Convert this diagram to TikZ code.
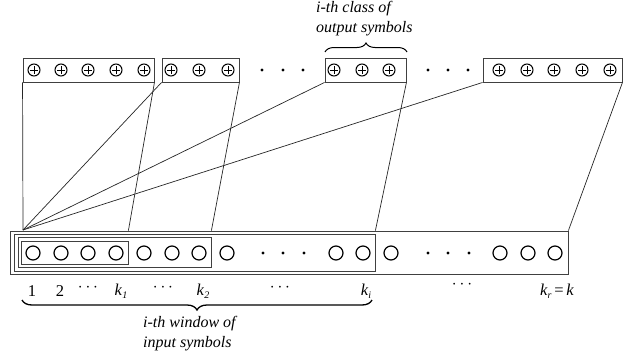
\documentclass[tikz,border=0pt]{standalone}
\usepackage{fontspec}
\setmainfont{Liberation Serif}
\usetikzlibrary{decorations.pathreplacing,calc}
\newcommand{\kk}[1]{\textit{k}\raisebox{-0.45ex}{\fontsize{10}{10}\selectfont\itshape #1}}
\begin{document}
\begin{tikzpicture}[x=1pt,y=-1pt,
  box/.style={draw=black!75, line width=0.9pt, inner sep=0, minimum height=24},
  win/.style={draw=black!75, line width=0.8pt, inner sep=0},
  link/.style={draw=black!85, line width=0.7pt},
  osym/.style={circle, draw=black, line width=1pt, minimum size=12, inner sep=0,
    path picture={\draw[line width=0.5pt]
      ($(path picture bounding box.center)+(-4,0)$) -- +(8,0)
      ($(path picture bounding box.center)+(0,-4)$) -- +(0,8);}},
  isym/.style={circle, draw=black, line width=1.2pt, minimum size=14, inner sep=0},
  dotpt/.style={circle, fill=black, minimum size=3.2, inner sep=0},
  lab/.style={font=\fontsize{16.5}{19}\selectfont, inner sep=0},
  captext/.style={font=\fontsize{16}{20}\selectfont\itshape, align=left, inner sep=0},
  brc/.style={decorate, line width=1.3pt}
]
\useasboundingbox (0,0) rectangle (627,364);

% output boxes
\node[box, minimum width=131] (ob1) at (88.5,70) {};
\node[box, minimum width=77]  (ob2) at (200.5,70) {};
\node[box, minimum width=81]  (ob3) at (365.5,70) {};
\node[box, minimum width=139] (ob4) at (552.5,70) {};

% output symbols
\foreach \x [count=\i] in {34,61,88,116,144} \node[osym] (oa\i) at (\x,70) {};
\foreach \x [count=\i] in {171,199,228} \node[osym] (obs\i) at (\x,70) {};
\foreach \x [count=\i] in {334,362,389} \node[osym] (oc\i) at (\x,70) {};
\foreach \x [count=\i] in {499,527,554,582,610} \node[osym] (od\i) at (\x,70) {};
\foreach \x [count=\i] in {262,283,303} \node[dotpt] (tda\i) at (\x,70) {};
\foreach \x [count=\i] in {428,448,468} \node[dotpt] (tdb\i) at (\x,70) {};

% input rectangles
\node[win, minimum width=558, minimum height=43] (outer) at (289,252.5) {};
\node[win, minimum width=361, minimum height=37] (wi) at (194.5,252.5) {};
\node[win, minimum width=193, minimum height=30] (w2) at (114.5,252.5) {};
\node[win, minimum width=107, minimum height=23] (w1) at (74.5,252.5) {};

% input symbols
\foreach \x [count=\i] in {33,61,88,116,144,172,199,227,336,363,391,500,528,555}
  \node[isym] (in\i) at (\x,253) {};
\foreach \x [count=\i] in {263,283,304} \node[dotpt] (bda\i) at (\x,253) {};
\foreach \x [count=\i] in {428,448,469} \node[dotpt] (bdb\i) at (\x,253) {};

% connectors
\coordinate (fan) at (23,230);
\coordinate (t1) at (w1.east |- outer.north);
\coordinate (t2) at (w2.east |- outer.north);
\coordinate (t3) at (wi.east |- outer.north);
\coordinate (t4) at (outer.north east);
\draw[link] (ob1.south west) -- (fan);
\draw[link] (ob2.south west) -- (fan);
\draw[link] (ob3.south west) -- (fan);
\draw[link] (ob4.south west) -- (fan);
\draw[link] (ob1.south east) -- (t1);
\draw[link] (ob2.south east) -- (t2);
\draw[link] (ob3.south east) -- (t3);
\draw[link] (ob4.south east) -- (t4);

% labels below
\node[lab] (l1) at (32,291) {1};
\node[lab] (l2) at (60,291) {2};
\node[lab] (l3) at (88,288) {$\cdots$};
\node[lab] (l4) at (121,291) {\kk{1}};
\node[lab] (l5) at (163,288) {$\cdots$};
\node[lab] (l6) at (203,291) {\kk{2}};
\node[lab] (l7) at (280,288) {$\cdots$};
\node[lab] (l8) at (366,291) {\kk{i}};
\node[lab] (l9) at (462,285) {$\cdots$};
\node[lab] (l10) at (557,291) {\kk{r}\,=\,\textit{k}};

% braces
\draw[brc, decoration={brace, amplitude=10pt, mirror}] (22,300) -- (372,300);
\draw[brc, line width=1pt, decoration={brace, amplitude=9pt}] (325,52) -- (407,52);

% captions
\node[captext, anchor=north west] (capb) at (143,316) {i-th window of\\input symbols};
\node[captext, anchor=north west] (capt) at (316,1) {i-th class of\\output symbols};
\end{tikzpicture}
\end{document}
